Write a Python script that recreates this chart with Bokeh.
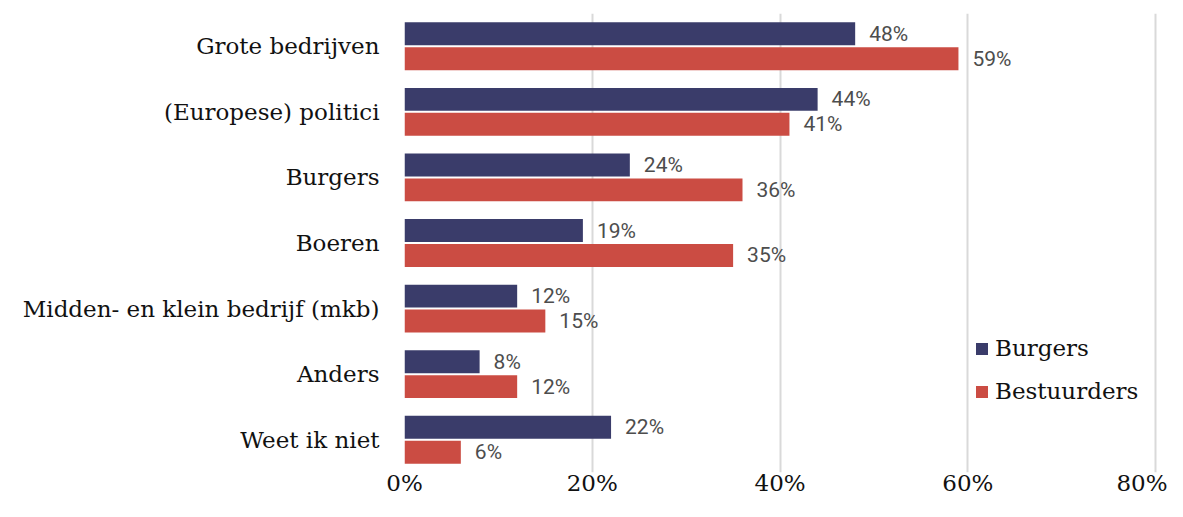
from bokeh.plotting import figure
from bokeh.models import FactorRange, Range1d, ColumnDataSource, Legend, LegendItem, NumeralTickFormatter, FixedTicker
from bokeh.transform import dodge
from bokeh.core.properties import value
from bokeh.embed import file_html
from bokeh.resources import INLINE

categories = ["Grote bedrijven", "(Europese) politici", "Burgers", "Boeren",
              "Midden- en klein bedrijf (mkb)", "Anders", "Weet ik niet"]
burgers = [48, 44, 24, 19, 12, 8, 22]
bestuurders = [59, 41, 36, 35, 15, 12, 6]
x_ticks = [0, 20, 40, 60, 80]
series_names = ["Burgers", "Bestuurders"]

NAVY = "#3A3C6A"
RED = "#CB4C43"
SERIF = "DejaVu Serif"

src = ColumnDataSource(dict(
    cat=categories,
    burgers=[v / 100 for v in burgers],
    bestuurders=[v / 100 for v in bestuurders],
    lab_b=[f"{v}%" for v in burgers],
    lab_s=[f"{v}%" for v in bestuurders],
))

p = figure(width=1167, height=501, output_backend="svg", toolbar_location=None,
           y_range=FactorRange(*reversed(categories)), x_range=Range1d(0, 0.802),
           min_border_left=404, min_border_right=10, min_border_top=13, min_border_bottom=29)
p.outline_line_color = None

rb = p.hbar(y=dodge("cat", 0.19, range=p.y_range), right="burgers", height=0.35,
            source=src, color=NAVY, line_color=None)
rs = p.hbar(y=dodge("cat", -0.19, range=p.y_range), right="bestuurders", height=0.35,
            source=src, color=RED, line_color=None)

for col, lab, off in (("burgers", "lab_b", 0.19), ("bestuurders", "lab_s", -0.19)):
    p.text(x=col, y=dodge("cat", off, range=p.y_range), text=lab, source=src,
           x_offset=14, text_align="left", text_baseline="middle",
           text_font=value("Roboto"), text_font_size="21px", text_color="#4D4D4D")

p.xaxis.ticker = FixedTicker(ticks=[t / 100 for t in x_ticks])
p.xaxis.formatter = NumeralTickFormatter(format="0%")
p.xaxis.axis_line_color = None
p.xaxis.major_tick_line_color = None
p.xaxis.minor_tick_line_color = None
p.xaxis.major_label_text_font = SERIF
p.xaxis.major_label_text_font_size = "23px"
p.xaxis.major_label_text_color = "#111111"
p.xaxis.major_label_standoff = -9

p.yaxis.axis_line_color = None
p.yaxis.major_tick_line_color = None
p.yaxis.major_label_text_font = SERIF
p.yaxis.major_label_text_font_size = "23px"
p.yaxis.major_label_text_color = "#111111"
p.yaxis.major_label_standoff = 19

p.ygrid.grid_line_color = None
p.xgrid.grid_line_color = "#D9D9D9"
p.xgrid.grid_line_width = 2

legend = Legend(items=[LegendItem(label=series_names[0], renderers=[rb]),
                       LegendItem(label=series_names[1], renderers=[rs])],
                location=(570, 68), padding=0, margin=0, spacing=17,
                glyph_width=15, glyph_height=15, label_height=26, label_standoff=6,
                label_text_font=SERIF, label_text_font_size="23px", label_text_color="#111111",
                background_fill_alpha=0, border_line_color=None)
p.add_layout(legend)

open("out.html", "w").write(file_html(p, INLINE))
